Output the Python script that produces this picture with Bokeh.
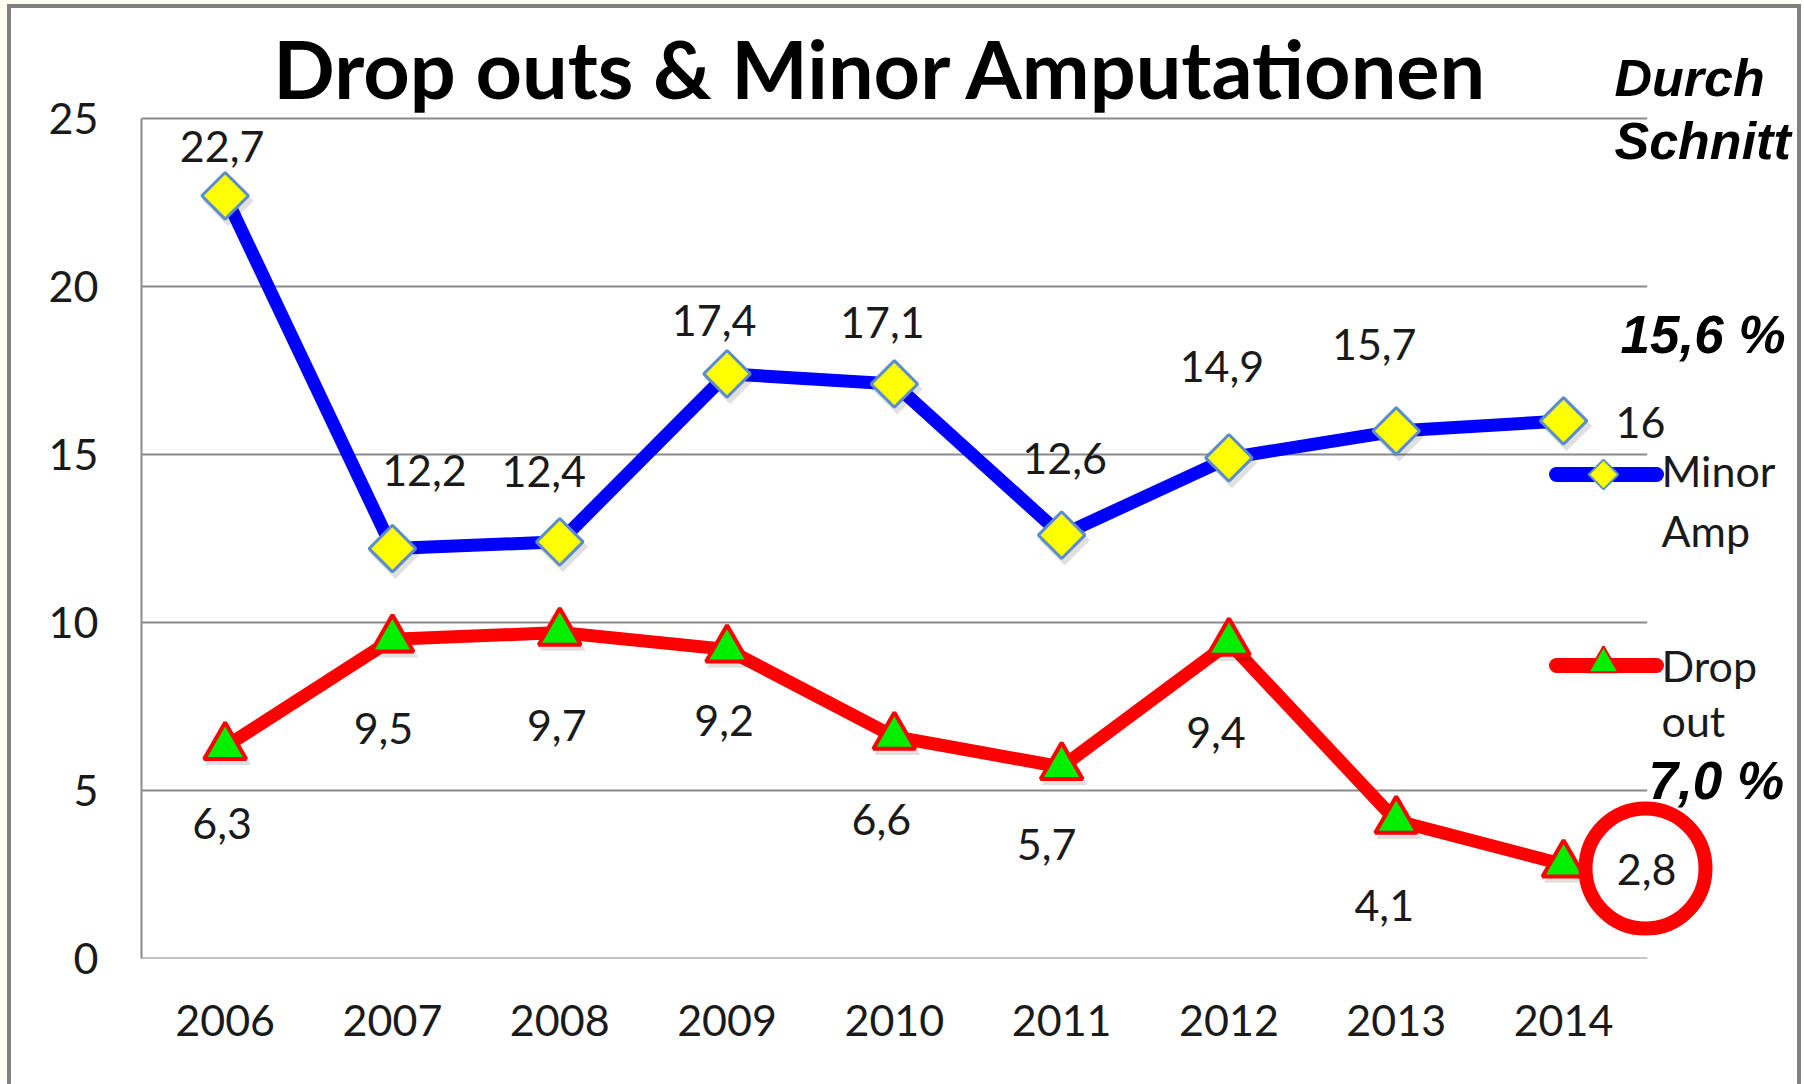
import math
from bokeh.plotting import figure
from bokeh.models import Range1d, FixedTicker
from bokeh.core.properties import value
from bokeh.embed import file_html
from bokeh.resources import INLINE

# ---------------- data ----------------
years = ["2006", "2007", "2008", "2009", "2010", "2011", "2012", "2013", "2014"]
minor_amp = [22.7, 12.2, 12.4, 17.4, 17.1, 12.6, 14.9, 15.7, 16.0]
drop_out = [6.3, 9.5, 9.7, 9.2, 6.6, 5.7, 9.4, 4.1, 2.8]
minor_text = ["22,7", "12,2", "12,4", "17,4", "17,1", "12,6", "14,9", "15,7", "16"]
drop_text = ["6,3", "9,5", "9,7", "9,2", "6,6", "5,7", "9,4", "4,1", "2,8"]
y_ticks = [0, 5, 10, 15, 20, 25]
title_text = "Drop outs & Minor Amputationen"
avg_heading = ["Durch", "Schnitt"]
avg_minor = "15,6 %"
avg_drop = "7,0 %"
legend_minor = ["Minor", "Amp"]
legend_drop = ["Drop", "out"]

# label offsets in screen px (dx right, dy up)
minor_dx = [-3, 32, -16, -13, -12, 3, -7, -22, 77]
minor_dy = [49, 78, 70, 53, 61, 77, 91, 86, -2]
drop_dx = [-3, -9, -3, -3, -13, -15, -13, -12, 83]
drop_dy = [-77, -89, -93, -71, -83, -78, -90, -85, -5]

# ---------------- layout (page pixel coordinates) ----------------
BW = 4                    # frame border width
OX, OY = 7 + BW, 4 + BW   # where the canvas starts on the page
W, H = 1794, 1080         # canvas size (host element is border-box, border clips the edge)
FLf = 141                 # plot-area left on page
FBf = 958                 # plot-area bottom (y = 0) on page
XPU = 167.3               # px per category
YPU = 33.6                # px per y unit
x_lo = -0.5
x_hi = x_lo + (W + OX - FLf) / XPU
y_hi = (FBf - OY) / YPU


def X(px):
    return x_lo + (px - FLf) / XPU


def Y(py):
    return (FBf - py) / YPU


FONT = "Lato"
TXT = "#1a1a1a"
FS = "43px"

p = figure(width=W, height=H, x_range=Range1d(x_lo, x_hi), y_range=Range1d(0, y_hi),
           output_backend="svg", toolbar_location=None,
           min_border_left=FLf - OX, min_border_right=0, min_border_top=0,
           min_border_bottom=H - (FBf - OY))
p.styles = {"margin-left": "7px", "margin-top": "4px",
            "border-left": f"{BW}px solid #808080", "border-top": f"{BW}px solid #808080",
            "border-right": f"{BW}px solid #808080",
            "box-shadow": "-7px -4px 0 0 #fffff0"}
p.outline_line_color = None
p.background_fill_color = "white"
p.border_fill_color = "white"
p.xgrid.visible = False
p.ygrid.visible = False

xs = list(range(len(years)))

# axes
p.yaxis.ticker = FixedTicker(ticks=y_ticks)
p.yaxis.bounds = (y_ticks[0], y_ticks[-1])
p.yaxis.axis_line_color = "#8a8a8a"
p.yaxis.axis_line_width = 2
p.yaxis.major_tick_line_color = None
p.yaxis.minor_tick_line_color = None
p.yaxis.major_label_standoff = 37
p.yaxis.major_label_text_font = FONT
p.yaxis.major_label_text_font_size = FS
p.yaxis.major_label_text_color = TXT

p.xaxis.ticker = FixedTicker(ticks=xs)
p.xaxis.major_label_overrides = {i: y for i, y in enumerate(years)}
p.xaxis.axis_line_color = None
p.xaxis.major_tick_line_color = None
p.xaxis.minor_tick_line_color = None
p.xaxis.major_label_standoff = 40
p.xaxis.major_label_text_font = FONT
p.xaxis.major_label_text_font_size = FS
p.xaxis.major_label_text_color = TXT

# gridlines limited to the category span
n = len(y_ticks)
p.segment(x0=[-0.5] * n, x1=[len(years) - 0.5] * n, y0=y_ticks, y1=y_ticks,
          line_color="#8a8a8a", line_width=2)

# series lines
p.line(xs, minor_amp, line_color="#0000ff", line_width=13, line_join="round")
p.line(xs, drop_out, line_color="#ff0000", line_width=13, line_join="round")

# soft marker shadows
sdx, sdy = 3 / XPU, -5 / YPU
p.scatter([x + sdx for x in xs], [v + sdy for v in minor_amp], marker="square",
          angle=math.pi / 4, size=36, fill_color="black", fill_alpha=0.12, line_color=None)
p.scatter([x + sdx for x in xs], [v + sdy for v in drop_out], marker="triangle",
          size=46, fill_color="black", fill_alpha=0.12, line_color=None)

# markers
p.scatter(xs, minor_amp, marker="square", angle=math.pi / 4, size=33,
          fill_color="#ffff00", line_color="#5b8ccc", line_width=3)
p.scatter(xs, drop_out, marker="triangle", size=42,
          fill_color="#00ee00", line_color="#ff0000", line_width=4)

# highlight circle around last drop-out label
p.scatter([X(1645)], [Y(868)], marker="circle", size=120, fill_color=None,
          line_color="#ff0000", line_width=14)

# data labels
p.text(x=[i + dx / XPU for i, dx in zip(xs, minor_dx)],
       y=[v + dy / YPU for v, dy in zip(minor_amp, minor_dy)],
       text=minor_text, text_align="center", text_baseline="middle",
       text_font=value(FONT), text_font_size=FS, text_color=TXT)
p.text(x=[i + dx / XPU for i, dx in zip(xs, drop_dx)],
       y=[v + dy / YPU for v, dy in zip(drop_out, drop_dy)],
       text=drop_text, text_align="center", text_baseline="middle",
       text_font=value(FONT), text_font_size=FS, text_color=TXT)

# title
p.text(x=[X(881)], y=[Y(67)], text=[title_text], text_align="center",
       text_baseline="middle", text_font=value(FONT), text_font_style="bold",
       text_font_size="81px", text_color="black")

# averages
p.text(x=[X(1614)] * 2, y=[Y(77), Y(140)], text=avg_heading, text_align="left",
       text_baseline="middle", text_font=value("Liberation Sans"),
       text_font_style="bold italic", text_font_size="52px", text_color="black")
p.text(x=[X(1620)], y=[Y(334)], text=[avg_minor], text_align="left",
       text_baseline="middle", text_font=value("Liberation Sans"),
       text_font_style="bold italic", text_font_size="53px", text_color="black")
p.text(x=[X(1648)], y=[Y(780)], text=[avg_drop], text_align="left",
       text_baseline="middle", text_font=value("Liberation Sans"),
       text_font_style="bold italic", text_font_size="53px", text_color="black")

# legend
p.line([X(1556), X(1656)], [Y(474)] * 2, line_color="#0000ff", line_width=15, line_cap="round")
p.scatter([X(1603)], [Y(474)], marker="square", angle=math.pi / 4, size=21,
          fill_color="#ffff00", line_color="#5b8ccc", line_width=2)
p.line([X(1556), X(1656)], [Y(665)] * 2, line_color="#ff0000", line_width=15, line_cap="round")
p.scatter([X(1603)], [Y(663)], marker="triangle", size=30,
          fill_color="#00ee00", line_color="#ff0000", line_width=2)
p.text(x=[X(1661)] * 2, y=[Y(470), Y(530)], text=legend_minor, text_align="left",
       text_baseline="middle", text_font=value(FONT), text_font_size=FS, text_color=TXT)
p.text(x=[X(1661)] * 2, y=[Y(665), Y(720)], text=legend_drop, text_align="left",
       text_baseline="middle", text_font=value(FONT), text_font_size=FS, text_color=TXT)

open("out.html", "w").write(file_html(p, INLINE))
